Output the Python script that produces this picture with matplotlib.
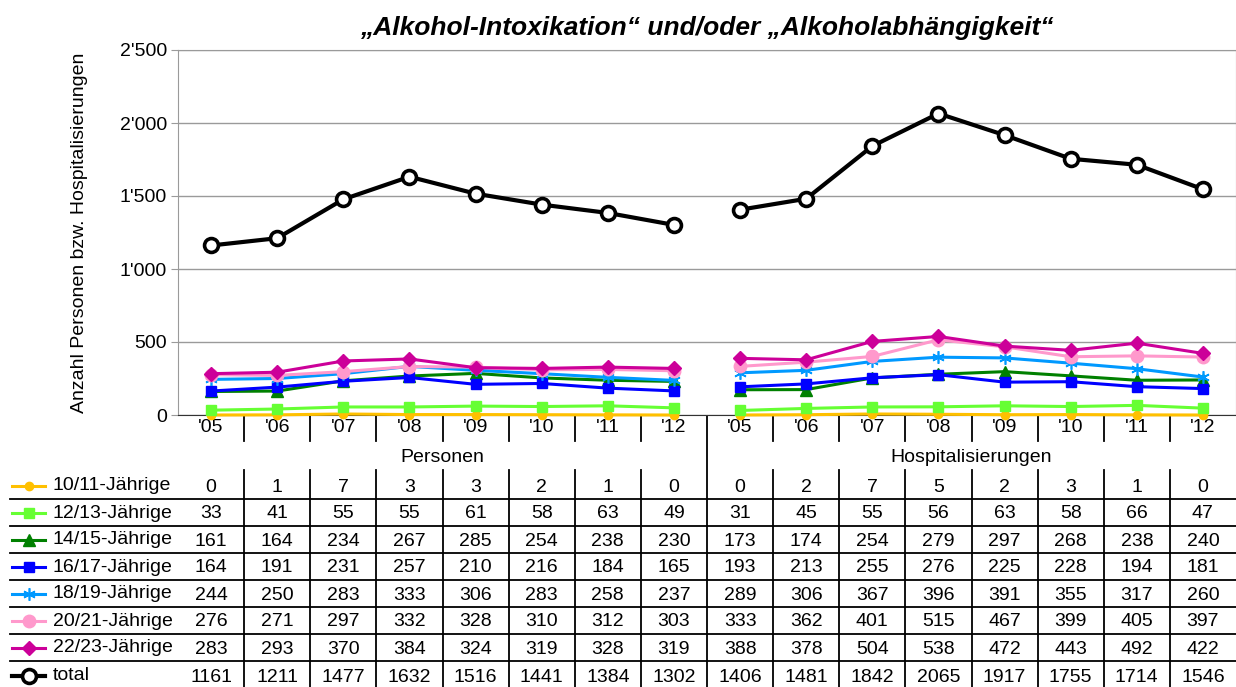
import matplotlib.pyplot as plt
import matplotlib.transforms as mtransforms
from matplotlib.ticker import FuncFormatter
import numpy as np

plt.rcParams['font.family'] = ['Liberation Sans', 'DejaVu Sans']

years = ["'05", "'06", "'07", "'08", "'09", "'10", "'11", "'12"]
groups = ["Personen", "Hospitalisierungen"]
series_names = ["10/11-Jährige", "12/13-Jährige", "14/15-Jährige", "16/17-Jährige",
                "18/19-Jährige", "20/21-Jährige", "22/23-Jährige", "total"]

pers_1011 = [0, 1, 7, 3, 3, 2, 1, 0]
pers_1213 = [33, 41, 55, 55, 61, 58, 63, 49]
pers_1415 = [161, 164, 234, 267, 285, 254, 238, 230]
pers_1617 = [164, 191, 231, 257, 210, 216, 184, 165]
pers_1819 = [244, 250, 283, 333, 306, 283, 258, 237]
pers_2021 = [276, 271, 297, 332, 328, 310, 312, 303]
pers_2223 = [283, 293, 370, 384, 324, 319, 328, 319]
pers_total = [1161, 1211, 1477, 1632, 1516, 1441, 1384, 1302]

hosp_1011 = [0, 2, 7, 5, 2, 3, 1, 0]
hosp_1213 = [31, 45, 55, 56, 63, 58, 66, 47]
hosp_1415 = [173, 174, 254, 279, 297, 268, 238, 240]
hosp_1617 = [193, 213, 255, 276, 225, 228, 194, 181]
hosp_1819 = [289, 306, 367, 396, 391, 355, 317, 260]
hosp_2021 = [333, 362, 401, 515, 467, 399, 405, 397]
hosp_2223 = [388, 378, 504, 538, 472, 443, 492, 422]
hosp_total = [1406, 1481, 1842, 2065, 1917, 1755, 1714, 1546]

pers = [pers_1011, pers_1213, pers_1415, pers_1617, pers_1819, pers_2021, pers_2223, pers_total]
hosp = [hosp_1011, hosp_1213, hosp_1415, hosp_1617, hosp_1819, hosp_2021, hosp_2223, hosp_total]

# style per series: color, marker, markersize, linewidth
styles = [
    dict(color='#FFC000', marker='o', ms=6, lw=2.2, mfc='#FFC000', mew=1),
    dict(color='#66FF33', marker='s', ms=7, lw=2.2, mfc='#66FF33', mew=1),
    dict(color='#008000', marker='^', ms=8, lw=2.2, mfc='#008000', mew=1),
    dict(color='#0000FF', marker='s', ms=7, lw=2.2, mfc='#0000FF', mew=1),
    dict(color='#0099FF', marker=(6, 2, 0), ms=9, lw=2.2, mfc='#0099FF', mew=1.2),
    dict(color='#FF99CC', marker='o', ms=9, lw=2.2, mfc='#FF99CC', mew=1),
    dict(color='#CC0099', marker='D', ms=7, lw=2.2, mfc='#CC0099', mew=1),
    dict(color='#000000', marker='o', ms=10, lw=3, mfc='white', mew=2.6),
]

FS = 14
W, H = 1236, 687
fig = plt.figure(figsize=(W / 100, H / 100), dpi=100)

# pixel-space helper axes for the table
tax = fig.add_axes([0, 0, 1, 1])
tax.set_xlim(0, W)
tax.set_ylim(H, 0)
tax.axis('off')
tax.patch.set_alpha(0)

x0, x1, y0, y1 = 178, 1236, 50, 415
ax = fig.add_axes([x0 / W, 1 - y1 / H, (x1 - x0) / W, (y1 - y0) / H])
n = len(years) * 2
ax.set_xlim(-0.5, n - 0.5)
ax.set_ylim(0, 2500)
ax.set_yticks(np.arange(0, 2501, 500))
ax.yaxis.set_major_formatter(FuncFormatter(lambda v, p: f"{int(v):,}".replace(',', "'")))
ax.set_xticks([])
ax.grid(axis='y', color='#9a9a9a', lw=1)
ax.set_axisbelow(True)
for s in ['left', 'right', 'top']:
    ax.spines[s].set_color('#9a9a9a')
ax.spines['bottom'].set_color('#333333')
ax.tick_params(axis='y', length=5, color='#9a9a9a', labelsize=FS, pad=3)
ax.set_ylabel('Anzahl Personen bzw. Hospitalisierungen', fontsize=FS)
ax.yaxis.set_label_coords((88 - x0) / (x1 - x0), 0.5)

xs_p = np.arange(len(years))
xs_h = xs_p + len(years)
for vp, vh, st in zip(pers, hosp, styles):
    for xs, v in ((xs_p, vp), (xs_h, vh)):
        ax.plot(xs, v, color=st['color'], lw=st['lw'], marker=st['marker'], ms=st['ms'],
                mfc=st['mfc'], mec=st['color'], mew=st['mew'], clip_on=False, zorder=3)

tax.text((x0 + x1) / 2, 28, '„Alkohol-Intoxikation“ und/oder „Alkoholabhängigkeit“',
         ha='center', va='center', fontsize=19, fontweight='bold', fontstyle='italic')

# table
bt = mtransforms.blended_transform_factory(ax.transData, tax.transData)
lab = years + years
for i, t in enumerate(lab):
    tax.text(i, 428, t, transform=bt, ha='center', va='center', fontsize=FS)
tax.text(3.5, 457, groups[0], transform=bt, ha='center', va='center', fontsize=FS)
tax.text(11.5, 457, groups[1], transform=bt, ha='center', va='center', fontsize=FS)

row_y = [486, 513, 540, 567, 594, 621, 648, 676]
for r, (name, vp, vh, st) in enumerate(zip(series_names, pers, hosp, styles)):
    y = row_y[r]
    tax.plot([12, 45], [y, y], color=st['color'], lw=st['lw'], clip_on=False)
    tax.plot([28.5], [y], marker=st['marker'], ms=st['ms'], mfc=st['mfc'], mec=st['color'],
             mew=st['mew'], color=st['color'], clip_on=False)
    tax.text(53, y, name, ha='left', va='center', fontsize=FS)
    for i, v in enumerate(list(vp) + list(vh)):
        tax.text(i, y + 1, str(v), transform=bt, ha='center', va='center', fontsize=FS)

for yl in [499, 526, 553, 580, 607, 634, 661]:
    tax.plot([10, W], [yl, yl], color='black', lw=1.3)

for k in range(1, n):
    xb = k - 0.5
    if k == len(years):
        tax.plot([xb, xb], [415, H], transform=bt, color='black', lw=1.3)
    else:
        tax.plot([xb, xb], [415, 441], transform=bt, color='black', lw=1.3)
        tax.plot([xb, xb], [470, H], transform=bt, color='black', lw=1.3)

fig.savefig('out.png', dpi=100)
